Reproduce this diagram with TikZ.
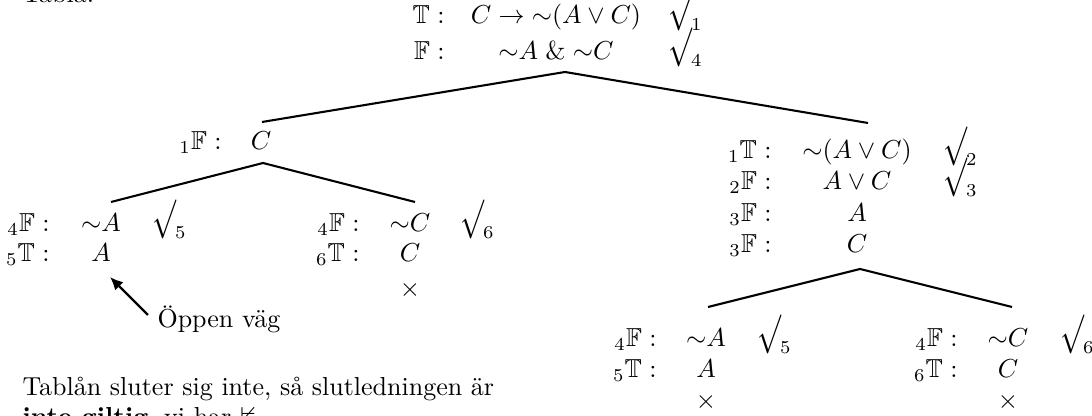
\documentclass[tikz,border=0pt]{standalone}
\usepackage{amsmath,amssymb,graphicx}
\usetikzlibrary{arrows.meta}
\newcommand{\tabcheck}[1]{\raisebox{-2.7pt}{\raisebox{\depth}{\scalebox{1.1}[1.5]{$\surd$}}}\kern-0.5pt\raisebox{-2.6pt}{$\scriptstyle #1$}}
\newcommand{\tneg}{\mathord{\sim}}
\tikzset{
  lab/.style={anchor=base east, inner sep=0pt},
  fml/.style={anchor=base, inner sep=0pt},
  chk/.style={anchor=base west, inner sep=0pt},
  txt/.style={anchor=base west, inner sep=0pt},
  branch/.style={line width=0.8pt, line join=miter},
  pointer/.style={line width=0.9pt, -{Latex[length=5pt,width=4.5pt]}}
}
\begin{document}
\begin{tikzpicture}[x=0.3846pt,y=-0.3846pt]
\useasboundingbox (0,0) rectangle (1092,416);
% captions
\node[txt] (title) at (22,3) {Tablå.};
\node[txt] (concl1) at (22,396) {Tablån sluter sig inte, så slutledningen är};
\node[txt] (concl2) at (22,426) {\textbf{inte giltig}, vi har $\nvDash$};
% root
\node[lab] (t1l) at (445,24) {$\mathbb{T}:$};
\node[fml] (t1f) at (556,24) {$C\rightarrow\tneg(A\vee C)$};
\node[chk] (t1c) at (668,24) {\tabcheck{1}};
\node[lab] (t2l) at (445,60) {$\mathbb{F}:$};
\node[fml] (t2f) at (556,60) {$\tneg A\mathrel{\&}\tneg C$};
\node[chk] (t2c) at (668,60) {\tabcheck{4}};
% left branch
\node[lab] (l1l) at (222,150) {${}_1\mathbb{F}:$};
\node[fml] (l1f) at (261,150) {$C$};
% left leaf
\node[lab] (ll1l) at (50,232) {${}_4\mathbb{F}:$};
\node[fml] (ll1f) at (101,232) {$\tneg A$};
\node[chk] (ll1c) at (152,232) {\tabcheck{5}};
\node[lab] (ll2l) at (50,262) {${}_5\mathbb{T}:$};
\node[fml] (ll2f) at (101,262) {$A$};
% middle leaf
\node[lab] (lm1l) at (360,232) {${}_4\mathbb{F}:$};
\node[fml] (lm1f) at (410,232) {$\tneg C$};
\node[chk] (lm1c) at (460,232) {\tabcheck{6}};
\node[lab] (lm2l) at (360,262) {${}_6\mathbb{T}:$};
\node[fml] (lm2f) at (410,262) {$C$};
\node[fml] (lmx) at (410,297) {$\times$};
% right branch
\node[lab] (r1l) at (772,159) {${}_1\mathbb{T}:$};
\node[fml] (r1f) at (857,159) {$\tneg(A\vee C)$};
\node[chk] (r1c) at (943,159) {\tabcheck{2}};
\node[lab] (r2l) at (772,190) {${}_2\mathbb{F}:$};
\node[fml] (r2f) at (857,190) {$A\vee C$};
\node[chk] (r2c) at (943,190) {\tabcheck{3}};
\node[lab] (r3l) at (772,222) {${}_3\mathbb{F}:$};
\node[fml] (r3f) at (857,222) {$A$};
\node[lab] (r4l) at (772,253) {${}_3\mathbb{F}:$};
\node[fml] (r4f) at (857,253) {$C$};
% bottom-left leaf
\node[lab] (bl1l) at (657,347) {${}_4\mathbb{F}:$};
\node[fml] (bl1f) at (706,347) {$\tneg A$};
\node[chk] (bl1c) at (757,347) {\tabcheck{5}};
\node[lab] (bl2l) at (657,378) {${}_5\mathbb{T}:$};
\node[fml] (bl2f) at (706,378) {$A$};
\node[fml] (blx) at (706,409) {$\times$};
% bottom-right leaf
\node[lab] (br1l) at (958,347) {${}_4\mathbb{F}:$};
\node[fml] (br1f) at (1008,347) {$\tneg C$};
\node[chk] (br1c) at (1060,347) {\tabcheck{6}};
\node[lab] (br2l) at (958,378) {${}_6\mathbb{T}:$};
\node[fml] (br2f) at (1008,378) {$C$};
\node[fml] (brx) at (1008,409) {$\times$};
% branching lines
\coordinate (a0) at (565,72);
\coordinate (a0l) at (262,122);
\coordinate (a0r) at (868,123);
\coordinate (a1) at (263,163);
\coordinate (a1l) at (111,202);
\coordinate (a1r) at (415,202);
\coordinate (a2) at (860,269);
\coordinate (a2l) at (708,307);
\coordinate (a2r) at (1012,307);
\draw[branch] (a0l) -- (a0) -- (a0r);
\draw[branch] (a1l) -- (a1) -- (a1r);
\draw[branch] (a2l) -- (a2) -- (a2r);
% open path pointer
\node[txt] (open) at (157,328) {Öppen väg};
\coordinate (ptail) at (148,315);
\coordinate (phead) at (110,277);
\draw[pointer] (ptail) -- (phead);
\end{tikzpicture}
\end{document}
